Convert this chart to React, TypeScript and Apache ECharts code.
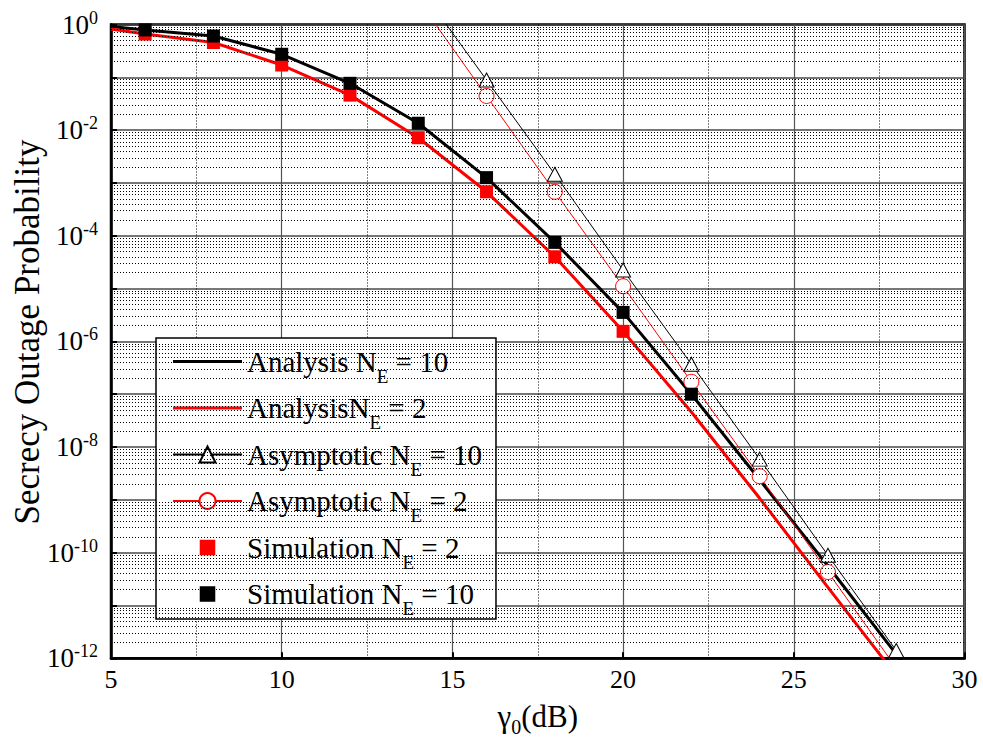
import React, { useEffect, useRef } from 'react';
import * as echarts from 'echarts';

const FONT = '"Liberation Serif", "Times New Roman", serif';

// x positions (dB)
const xAnalysis10 = [5, 6, 8, 10, 12, 14, 16, 18, 20, 22, 24, 26, 28, 29];
const analysisNE10 = [0.92, 0.79, 0.605, 0.273, 0.077, 0.0135, 1.26e-3, 7.5e-5, 3.54e-6, 1.0e-7, 2.4e-9, 5.6e-11, 1.2e-12, 1.8e-13];
const xAnalysis2 = [5, 6, 8, 10, 12, 14, 16, 18, 20, 22, 24, 26, 28];
const analysisNE2 = [0.82, 0.66, 0.456, 0.171, 0.046, 7.18e-3, 6.8e-4, 4.0e-5, 1.55e-6, 4.6e-8, 1.07e-9, 2.2e-11, 4.7e-13];

const xAsym = [14, 16, 18, 20, 22, 24, 26, 28];
const asymNE10 = [5.4, 0.089, 1.46e-3, 2.24e-5, 3.7e-7, 5.9e-9, 8.9e-11, 1.4e-12];
const asymNE2 = [2.9, 0.0443, 6.8e-4, 1.11e-5, 1.72e-7, 2.8e-9, 4.3e-11, 6.6e-13];

const xSim10 = [6, 8, 10, 12, 14, 16, 18, 20, 22];
const simNE10 = [0.79, 0.605, 0.273, 0.077, 0.0135, 1.26e-3, 7.5e-5, 3.54e-6, 1.0e-7];
const xSim2 = [6, 8, 10, 12, 14, 16, 18, 20];
const simNE2 = [0.66, 0.456, 0.171, 0.046, 7.18e-3, 6.8e-4, 4.0e-5, 1.55e-6];

const xTicks = [5, 10, 15, 20, 25, 30];
const yMinExp = -12;
const yMaxExp = 0;

const names = [
  'Analysis N_E = 10',
  'AnalysisN_E = 2',
  'Asymptotic N_E = 10',
  'Asymptotic N_E = 2',
  'Simulation N_E = 2',
  'Simulation N_E = 10',
];

const legendRich: Record<string, string> = {
  'Analysis N_E = 10': '{b|Analysis N}{s|E}{b| = 10}',
  'AnalysisN_E = 2': '{b|AnalysisN}{s|E}{b| = 2}',
  'Asymptotic N_E = 10': '{b|Asymptotic N}{s|E}{b| = 10}',
  'Asymptotic N_E = 2': '{b|Asymptotic N}{s|E}{b| = 2}',
  'Simulation N_E = 2': '{b|Simulation N}{s|E}{b| = 2}',
  'Simulation N_E = 10': '{b|Simulation N}{s|E}{b| = 10}',
};

const LINE_ICON = 'path://M0,0h69v3h-69z';
const SQUARE_ICON = 'path://M0,0h0.01v0.01h-0.01z M17.99,17.99h0.01v0.01h-0.01z M2,2h14v14h-14z';

function pairs(xs: number[], ys: number[]) {
  return xs.map((x, i) => [x, ys[i]]);
}

export default function App() {
  const ref = useRef<HTMLDivElement>(null);
  useEffect(() => {
    const chart = echarts.init(ref.current!, null, { renderer: 'svg' });

    const minorVals: number[] = [];
    for (let e = yMinExp; e < yMaxExp; e++) {
      for (let m = 2; m <= 9; m++) minorVals.push(m * Math.pow(10, e));
    }

    const asymData = (xs: number[], ys: number[]) =>
      xs.map((x, i) => {
        const v = ys[i];
        const outside = v > Math.pow(10, yMaxExp) || v < Math.pow(10, yMinExp);
        return outside ? { value: [x, v], symbol: 'none' } : { value: [x, v] };
      });

    const option: any = {
      animation: false,
      backgroundColor: '#fff',
      grid: {
        left: 111,
        right: 18.5,
        top: 24.5,
        bottom: 94.7,
        show: true,
        borderColor: '#000',
        borderWidth: 2.5,
        backgroundColor: 'transparent',
      },
      graphic: [
        {
          type: 'text',
          x: 27,
          y: 332,
          rotation: Math.PI / 2,
          style: {
            text: 'Secrecy Outage Probability',
            font: '35px ' + FONT,
            fill: '#000',
            align: 'center',
            verticalAlign: 'middle',
          },
        },
      ],
      xAxis: {
        type: 'value',
        min: xTicks[0],
        max: xTicks[xTicks.length - 1],
        interval: 5,
        name: '{g|γ}{s|0}{g|(dB)}',
        nameLocation: 'middle',
        nameGap: 37,
        nameTextStyle: {
          rich: {
            g: { fontFamily: FONT, fontSize: 31, color: '#000' },
            s: { fontFamily: FONT, fontSize: 20, color: '#000', padding: [22, 0, 0, 0] },
          },
        },
        axisLine: { show: true, lineStyle: { color: '#000', width: 2.5 } },
        axisTick: { show: true, inside: true, length: 6, lineStyle: { color: '#000', width: 2 } },
        axisLabel: { fontFamily: FONT, fontSize: 26, color: '#000', margin: 8 },
        splitLine: { show: true, lineStyle: { color: '#555', width: 1.2 } },
        minorTick: { show: false, splitNumber: 2 },
        minorSplitLine: { show: true, lineStyle: { color: '#000', width: 1, type: [1, 2] } },
      },
      yAxis: {
        type: 'log',
        logBase: 10,
        min: Math.pow(10, yMinExp),
        max: Math.pow(10, yMaxExp),
        interval: 1,
        axisLine: { show: true, lineStyle: { color: '#000', width: 2.5 } },
        axisTick: { show: true, inside: true, length: 6, lineStyle: { color: '#000', width: 2 } },
        axisLabel: {
          margin: 13,
          formatter: (v: number) => {
            const e = Math.round(Math.log10(v));
            if (Math.abs(e) % 2 === 1) return '';
            return '{b|10}{s|' + (e === 0 ? '0' : String(e)) + '}';
          },
          rich: {
            b: { fontFamily: FONT, fontSize: 27, color: '#000' },
            s: { fontFamily: FONT, fontSize: 18, color: '#000', padding: [0, 0, 14, 0] },
          },
        },
        splitLine: { show: true, lineStyle: { color: '#4a4a4a', width: 1.5 } },
      },
      legend: {
        orient: 'vertical',
        left: 156,
        top: 338,
        backgroundColor: '#fff',
        borderColor: '#000',
        borderWidth: 1.5,
        borderRadius: 0,
        padding: [9, 14, 1, 16],
        itemGap: 8,
        itemWidth: 69,
        itemHeight: 20,
        data: [
          { name: names[0], icon: LINE_ICON },
          { name: names[1], icon: LINE_ICON },
          { name: names[2] },
          { name: names[3] },
          { name: names[4], icon: SQUARE_ICON },
          { name: names[5], icon: SQUARE_ICON },
        ],
        formatter: (name: string) => legendRich[name],
        textStyle: {
          color: '#000',
          rich: {
            b: { fontFamily: FONT, fontSize: 29, color: '#000' },
            s: { fontFamily: FONT, fontSize: 19, color: '#000', padding: [29, 0, 0, 0] },
          },
        },
      },
      series: [
        {
          name: '__grid',
          type: 'line',
          data: [],
          z: 1,
          silent: true,
          markLine: {
            silent: true,
            precision: 20,
            symbol: ['none', 'none'],
            label: { show: false },
            lineStyle: { color: '#000', width: 1, type: [1, 2] },
            emphasis: { disabled: true },
            data: minorVals.map((v) => ({ yAxis: v })),
          },
        },
        {
          name: names[0],
          type: 'line',
          data: pairs(xAnalysis10, analysisNE10),
          symbol: 'none',
          lineStyle: { color: '#000', width: 3 },
          itemStyle: { color: '#000' },
          z: 3,
        },
        {
          name: names[1],
          type: 'line',
          data: pairs(xAnalysis2, analysisNE2),
          symbol: 'none',
          lineStyle: { color: '#ff0000', width: 3 },
          itemStyle: { color: '#ff0000' },
          z: 3,
        },
        {
          name: names[2],
          type: 'line',
          data: asymData(xAsym, asymNE10),
          symbol: 'triangle',
          symbolSize: [15, 14],
          showAllSymbol: true,
          lineStyle: { color: '#000', width: 1 },
          itemStyle: { color: '#fff', borderColor: '#000', borderWidth: 1 },
          z: 4,
        },
        {
          name: names[3],
          type: 'line',
          data: asymData(xAsym, asymNE2),
          symbol: 'circle',
          symbolSize: 15,
          showAllSymbol: true,
          lineStyle: { color: '#ff0000', width: 1 },
          itemStyle: { color: '#fff', borderColor: '#ff0000', borderWidth: 1 },
          z: 4,
        },
        {
          name: names[4],
          type: 'scatter',
          data: pairs(xSim2, simNE2),
          symbol: 'rect',
          symbolSize: 13,
          itemStyle: { color: '#ff0000', opacity: 1 },
          z: 5,
        },
        {
          name: names[5],
          type: 'scatter',
          data: pairs(xSim10, simNE10),
          symbol: 'rect',
          symbolSize: 13,
          itemStyle: { color: '#000', opacity: 1 },
          z: 6,
        },
      ],
    };

    chart.setOption(option);
    return () => chart.dispose();
  }, []);

  return (
    <div
      ref={ref}
      style={{ position: 'fixed', left: 0, top: 0, width: 983, height: 753 }}
    />
  );
}
